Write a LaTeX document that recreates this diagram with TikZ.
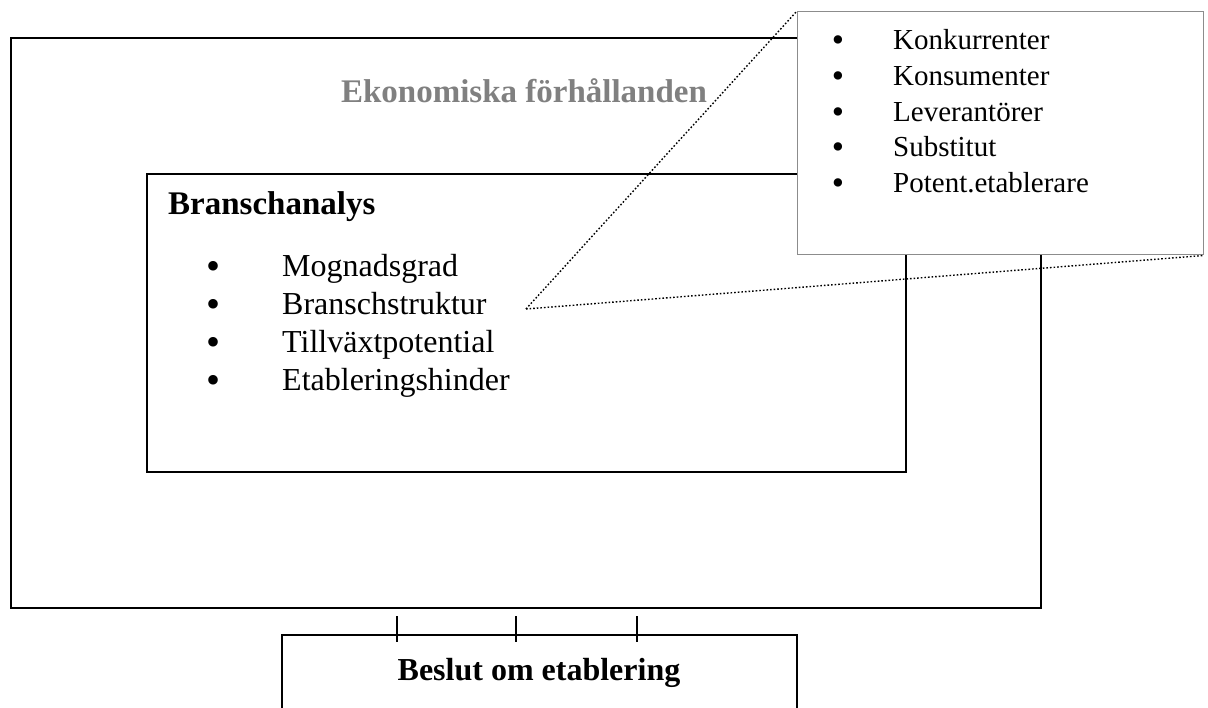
\documentclass[tikz,border=0pt]{standalone}
\usepackage{fontspec}
\setmainfont{Liberation Serif}
\definecolor{titlegray}{gray}{0.5}
\definecolor{cborder}{gray}{0.55}
\begin{document}
\begin{tikzpicture}[x=1pt,y=-1pt,
  frame/.style={draw=black,line width=1.6pt,inner sep=0pt,fill=none},
  callbox/.style={draw=cborder,line width=1pt,inner sep=0pt,fill=white},
  item/.style={anchor=base west,inner sep=0pt,font=\fontsize{32}{38}\selectfont},
  bul/.style={anchor=base,inner sep=0pt,font=\fontsize{40}{40}\selectfont},
  citem/.style={anchor=base west,inner sep=0pt,font=\fontsize{29}{35}\selectfont},
  cbul/.style={anchor=base,inner sep=0pt,font=\fontsize{35}{35}\selectfont},
  head/.style={inner sep=0pt,font=\bfseries\fontsize{33}{40}\selectfont},
  callline/.style={draw=black,line width=1.4pt,dash pattern=on 1.6pt off 2pt},
  tick/.style={draw=black,line width=1.3pt}]
\useasboundingbox (0,0) rectangle (1208,708);
% boxes
\node[frame,minimum width=1030pt,minimum height=570pt] (outer) at (526,323) {};
\node[frame,minimum width=759pt,minimum height=298pt] (inner) at (526.5,323) {};
\node[frame,minimum width=515pt,minimum height=130pt] (decide) at (539.5,700) {};
% title texts
\node[head,text=titlegray,anchor=base] (title) at (524,103) {Ekonomiska förhållanden};
\node[head,anchor=base west] (bransch) at (168,215) {Branschanalys};
\node[head,anchor=base,font=\bfseries\fontsize{32}{38}\selectfont] (beslut) at (539,680) {Beslut om etablering};
% list
\node[bul] (b1) at (214,279.5) {•};
\node[item] (i1) at (282,277) {Mognadsgrad};
\node[bul] (b2) at (214,317.5) {•};
\node[item] (i2) at (282,315) {Branschstruktur};
\node[bul] (b3) at (214,355.5) {•};
\node[item] (i3) at (282,353) {Tillväxtpotential};
\node[bul] (b4) at (214,393.5) {•};
\node[item] (i4) at (282,391) {Etableringshinder};
% callout
\coordinate (src) at (526,309);
\node[callbox,minimum width=406pt,minimum height=243pt] (call) at (1000,133.5) {};
\draw[callline] (src) -- (call.north west);
\draw[callline] (src) -- (call.south east);
\node[cbul] (c1b) at (838,52) {•};
\node[citem] (c1) at (893,50) {Konkurrenter};
\node[cbul] (c2b) at (838,88) {•};
\node[citem] (c2) at (893,86) {Konsumenter};
\node[cbul] (c3b) at (838,124) {•};
\node[citem] (c3) at (893,122) {Leverantörer};
\node[cbul] (c4b) at (838,159) {•};
\node[citem] (c4) at (893,157) {Substitut};
\node[cbul] (c5b) at (838,195) {•};
\node[citem] (c5) at (893,193) {Potent.etablerare};
% ticks
\coordinate (t1a) at (397,616); \coordinate (t1b) at (397,642);
\coordinate (t2a) at (516,616); \coordinate (t2b) at (516,642);
\coordinate (t3a) at (637,616); \coordinate (t3b) at (637,642);
\draw[tick] (t1a) -- (t1b);
\draw[tick] (t2a) -- (t2b);
\draw[tick] (t3a) -- (t3b);
\end{tikzpicture}
\end{document}
